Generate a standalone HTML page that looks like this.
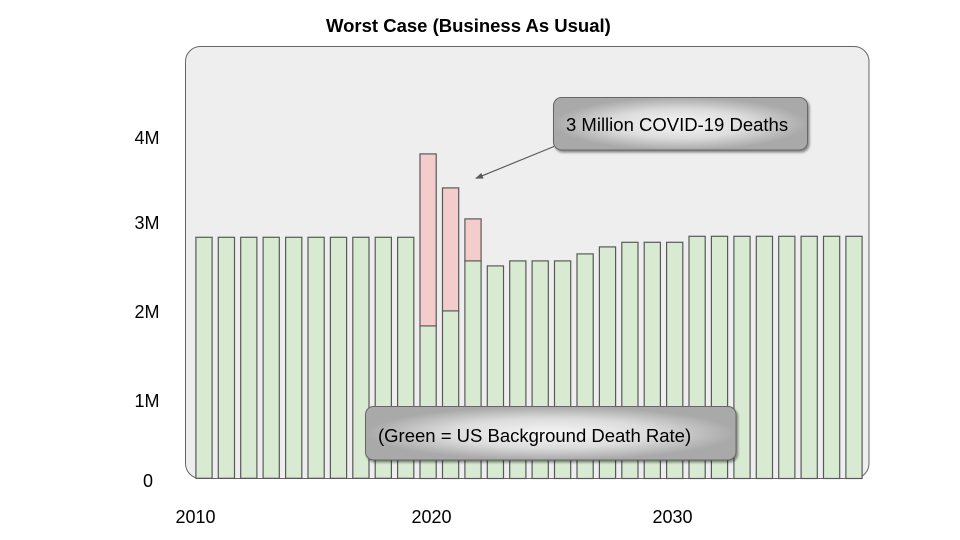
<!DOCTYPE html>
<html>
<head>
<meta charset="utf-8">
<style>
html,body{margin:0;padding:0;background:#ffffff;}
svg{display:block;}
text{font-family:"Liberation Sans",Arial,sans-serif;fill:#000;}
</style>
</head>
<body>
<svg width="960" height="540" viewBox="0 0 960 540" xmlns="http://www.w3.org/2000/svg">
<defs>
  <radialGradient id="g1" cx="0.5" cy="0.5" r="0.5">
    <stop offset="0" stop-color="#f6f6f6"/>
    <stop offset="0.55" stop-color="#dcdcdc"/>
    <stop offset="1" stop-color="#a9a9a9"/>
  </radialGradient>
  <filter id="sh" x="-10%" y="-20%" width="130%" height="160%">
    <feGaussianBlur in="SourceAlpha" stdDeviation="1.2"/>
    <feOffset dx="1.5" dy="2" result="o"/>
    <feComponentTransfer><feFuncA type="linear" slope="0.45"/></feComponentTransfer>
    <feMerge><feMergeNode/><feMergeNode in="SourceGraphic"/></feMerge>
  </filter>
  <marker id="ah" markerWidth="8" markerHeight="6" refX="7" refY="3" orient="auto" markerUnits="userSpaceOnUse">
    <path d="M0,0 L8,3 L0,6 z" fill="#595959"/>
  </marker>
</defs>

<rect width="960" height="540" fill="#ffffff"/>

<text x="326" y="32" font-size="18.5" font-weight="bold">Worst Case (Business As Usual)</text>

<!-- panel -->
<rect x="185.5" y="46.5" width="683.5" height="432" rx="15" ry="15" fill="#eeeeee" stroke="#666666" stroke-width="1"/>

<!-- bars -->
<g stroke="#595959" stroke-width="1.2">
  <!-- 2010-2019 -->
  <rect x="195.9" y="237.3" width="16.2" height="241" fill="#d9ead3"/>
  <rect x="218.3" y="237.3" width="16.2" height="241" fill="#d9ead3"/>
  <rect x="240.7" y="237.3" width="16.2" height="241" fill="#d9ead3"/>
  <rect x="263.1" y="237.3" width="16.2" height="241" fill="#d9ead3"/>
  <rect x="285.6" y="237.3" width="16.2" height="241" fill="#d9ead3"/>
  <rect x="308.0" y="237.3" width="16.2" height="241" fill="#d9ead3"/>
  <rect x="330.4" y="237.3" width="16.2" height="241" fill="#d9ead3"/>
  <rect x="352.8" y="237.3" width="16.2" height="241" fill="#d9ead3"/>
  <rect x="375.2" y="237.3" width="16.2" height="241" fill="#d9ead3"/>
  <rect x="397.6" y="237.3" width="16.2" height="241" fill="#d9ead3"/>
  <!-- 2020 -->
  <rect x="420.0" y="325.9" width="16.2" height="152.6" fill="#d9ead3"/>
  <rect x="420.0" y="153.9" width="16.2" height="172" fill="#f4cccc"/>
  <!-- 2021 -->
  <rect x="442.5" y="310.9" width="16.2" height="167.6" fill="#d9ead3"/>
  <rect x="442.5" y="187.9" width="16.2" height="123" fill="#f4cccc"/>
  <!-- 2022 -->
  <rect x="464.9" y="260.9" width="16.2" height="217.6" fill="#d9ead3"/>
  <rect x="464.9" y="218.9" width="16.2" height="42" fill="#f4cccc"/>
  <!-- 2023 -->
  <rect x="487.3" y="265.9" width="16.2" height="212.6" fill="#d9ead3"/>
  <!-- 2024-2026 -->
  <rect x="509.7" y="260.9" width="16.2" height="217.6" fill="#d9ead3"/>
  <rect x="532.1" y="260.9" width="16.2" height="217.6" fill="#d9ead3"/>
  <rect x="554.5" y="260.9" width="16.2" height="217.6" fill="#d9ead3"/>
  <!-- 2027 -->
  <rect x="577.0" y="253.9" width="16.2" height="224.6" fill="#d9ead3"/>
  <!-- 2028 -->
  <rect x="599.4" y="246.9" width="16.2" height="231.6" fill="#d9ead3"/>
  <!-- 2029-2031 -->
  <rect x="621.8" y="242.3" width="16.2" height="236.2" fill="#d9ead3"/>
  <rect x="644.2" y="242.3" width="16.2" height="236.2" fill="#d9ead3"/>
  <rect x="666.6" y="242.3" width="16.2" height="236.2" fill="#d9ead3"/>
  <!-- 2032-2039 -->
  <rect x="689.0" y="236.3" width="16.2" height="242.2" fill="#d9ead3"/>
  <rect x="711.4" y="236.3" width="16.2" height="242.2" fill="#d9ead3"/>
  <rect x="733.9" y="236.3" width="16.2" height="242.2" fill="#d9ead3"/>
  <rect x="756.3" y="236.3" width="16.2" height="242.2" fill="#d9ead3"/>
  <rect x="778.7" y="236.3" width="16.2" height="242.2" fill="#d9ead3"/>
  <rect x="801.1" y="236.3" width="16.2" height="242.2" fill="#d9ead3"/>
  <rect x="823.5" y="236.3" width="16.2" height="242.2" fill="#d9ead3"/>
  <rect x="845.9" y="236.3" width="16.2" height="242.2" fill="#d9ead3"/>
</g>

<!-- arrow -->
<line x1="554" y1="146.5" x2="476" y2="178.3" stroke="#595959" stroke-width="1.2" marker-end="url(#ah)"/>

<!-- callout 1 -->
<rect x="553.5" y="97.5" width="254" height="52.5" rx="8" ry="8" fill="url(#g1)" stroke="#666666" stroke-width="1" filter="url(#sh)"/>
<text x="566" y="131" font-size="18.5">3 Million COVID-19 Deaths</text>

<!-- callout 2 -->
<rect x="365.5" y="406.5" width="370.5" height="53.5" rx="8" ry="8" fill="url(#g1)" stroke="#666666" stroke-width="1" filter="url(#sh)"/>
<text x="378" y="442" font-size="18.5">(Green = US Background Death Rate)</text>

<!-- y labels -->
<g font-size="18" text-anchor="middle">
  <text x="147" y="144">4M</text>
  <text x="147" y="229">3M</text>
  <text x="147" y="318">2M</text>
  <text x="147" y="407">1M</text>
  <text x="148" y="487">0</text>
</g>

<!-- x labels -->
<g font-size="18" text-anchor="middle">
  <text x="195.5" y="523">2010</text>
  <text x="431.5" y="523">2020</text>
  <text x="672.5" y="523">2030</text>
</g>
</svg>
</body>
</html>
